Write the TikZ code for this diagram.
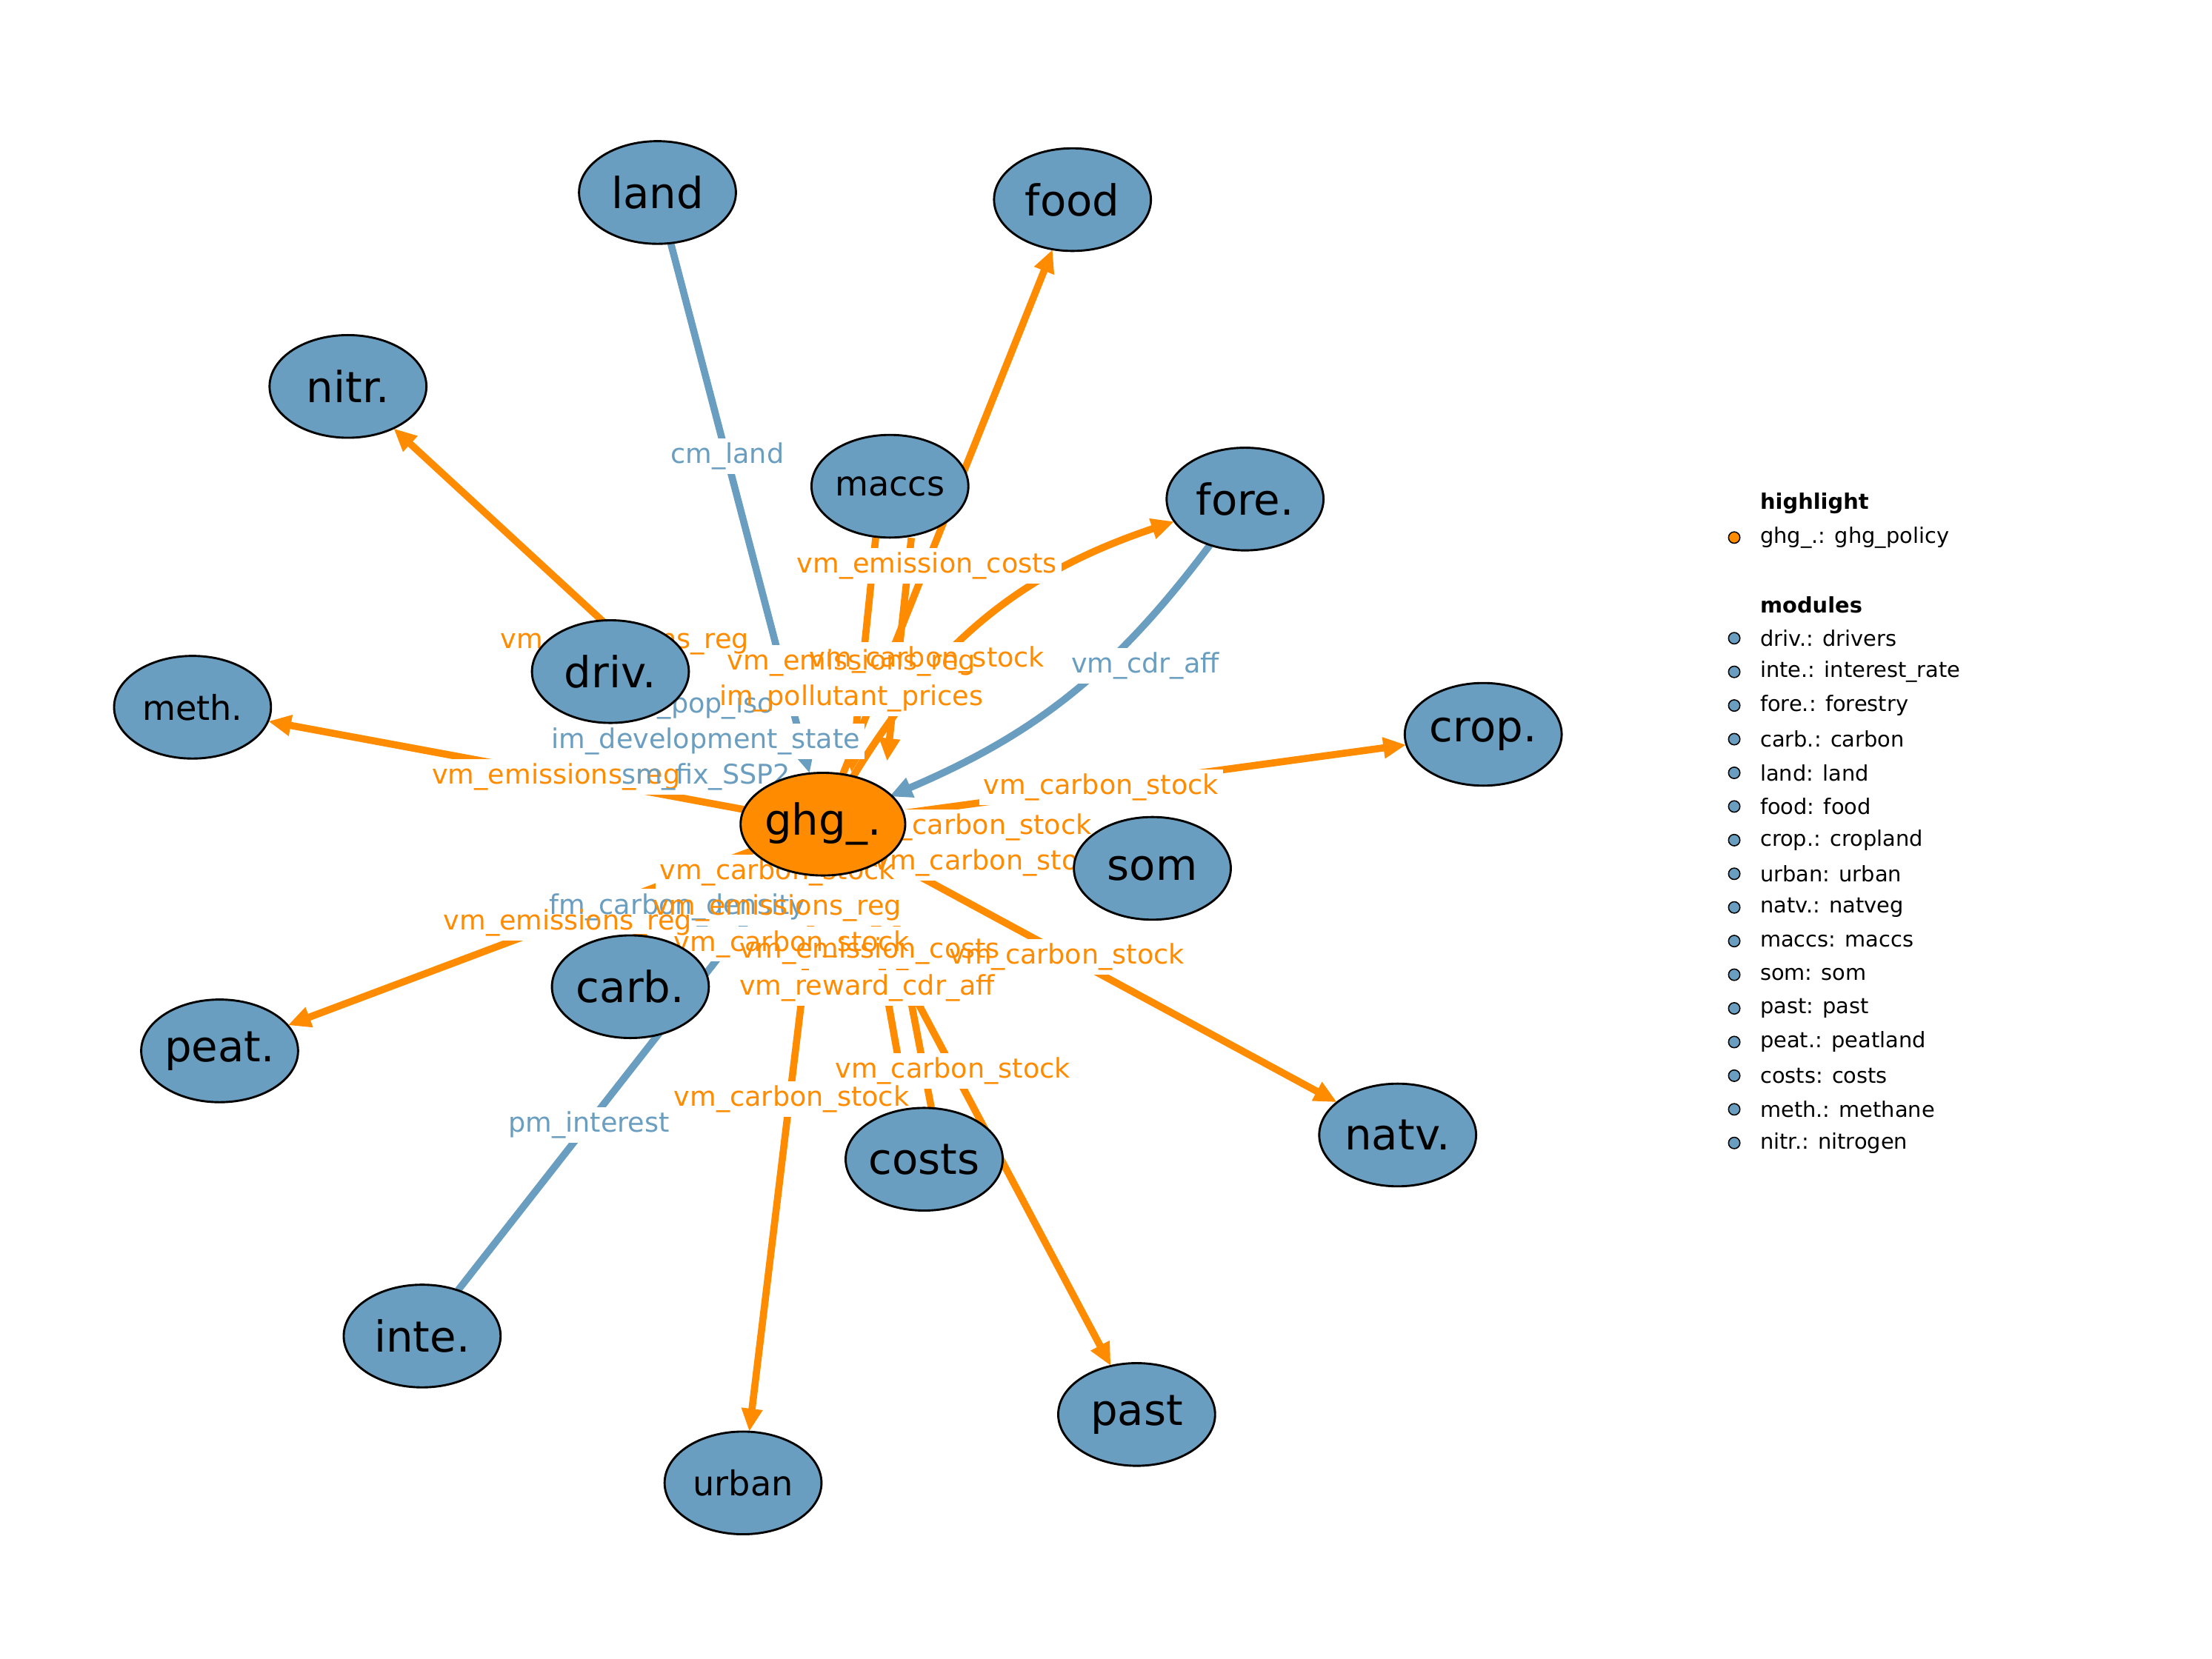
\documentclass[tikz,border=0pt]{standalone}
\usepackage{fontspec}
\setmainfont{DejaVu Sans}
\usetikzlibrary{arrows.meta,shapes.geometric}
\definecolor{mblue}{HTML}{6A9EC0}
\definecolor{morange}{HTML}{FF8C00}
\tikzset{
 mod/.style={ellipse,draw=black,line width=1.5pt,fill=mblue,minimum width=110pt,minimum height=72pt,inner sep=0pt,font=\fontsize{30}{30}\selectfont},
 smod/.style={mod,font=\fontsize{24}{24}\selectfont},
 oe/.style={draw=morange,line width=5pt,-{Triangle[length=16pt,width=14pt]}},
 be/.style={draw=mblue,line width=5pt,-{Triangle[length=16pt,width=14pt]}},
 lab/.style={inner sep=3pt,font=\fontsize{19}{19}\selectfont},
 boxpass/.style={lab,fill=white,text opacity=0},
 textpass/.style={lab},
 ocol/.style={text=morange},
 bcol/.style={text=mblue},
 leg/.style={anchor=west,font=\fontsize{15}{15}\selectfont,inner sep=0pt},
 dot/.style={circle,draw=black,line width=0.8pt,minimum size=8pt,inner sep=0pt}
}
\newcommand{\putlabels}[2]{%
\node[#1,bcol] (#2a) at (510,320) {cm\_land};
\node[#1,ocol] (#2b) at (650,397) {vm\_emission\_costs};
\node[#1,ocol] (#2c) at (438,450) {vm\_emissions\_reg};
\node[#1,ocol] (#2d) at (650,463) {vm\_carbon\_stock};
\node[#1,ocol] (#2e) at (597,465) {vm\_emissions\_reg};
\node[#1,bcol] (#2f) at (803,467) {vm\_cdr\_aff};
\node[#1,bcol] (#2g) at (490,495) {im\_pop\_iso};
\node[#1,ocol] (#2h) at (597,490) {im\_pollutant\_prices};
\node[#1,bcol] (#2i) at (495,520) {im\_development\_state};
\node[#1,ocol] (#2j) at (390,545) {vm\_emissions\_reg};
\node[#1,bcol] (#2k) at (495,545) {sm\_fix\_SSP2};
\node[#1,ocol] (#2l) at (772,552) {vm\_carbon\_stock};
\node[#1,ocol] (#2m) at (683,580) {vm\_carbon\_stock};
\node[#1,ocol] (#2n) at (695,605) {vm\_carbon\_stock};
\node[#1,ocol] (#2o) at (545,612) {vm\_carbon\_stock};
\node[#1,bcol] (#2p) at (475,636) {fm\_carbon\_density};
\node[#1,ocol] (#2q) at (545,637) {vm\_emissions\_reg};
\node[#1,ocol] (#2r) at (398,647) {vm\_emissions\_reg};
\node[#1,ocol] (#2s) at (555,662) {vm\_carbon\_stock};
\node[#1,ocol] (#2t) at (748,671) {vm\_carbon\_stock};
\node[#1,ocol] (#2u) at (610,667) {vm\_emission\_costs};
\node[#1,ocol] (#2v) at (608,693) {vm\_reward\_cdr\_aff};
\node[#1,ocol] (#2w) at (668,751) {vm\_carbon\_stock};
\node[#1,ocol] (#2x) at (555,771) {vm\_carbon\_stock};
\node[#1,bcol] (#2y) at (413,789) {pm\_interest};
}
\begin{document}
\begin{tikzpicture}[x=1pt,y=-1pt]
\useasboundingbox (0,0) rectangle (1551,1163);
\coordinate (cg) at (577,578);
\coordinate (cland) at (461,135);
\coordinate (cfood) at (752,140);
\coordinate (cnitr) at (244,271);
\coordinate (cmaccs) at (624,341);
\coordinate (cfore) at (873,350);
\coordinate (cdriv) at (428,471);
\coordinate (cmeth) at (135,496);
\coordinate (ccrop) at (1040,515);
\coordinate (csom) at (808,609);
\coordinate (ccarb) at (442,692);
\coordinate (cpeat) at (154,737);
\coordinate (cnatv) at (980,796);
\coordinate (ccosts) at (648,813);
\coordinate (cinte) at (296,937);
\coordinate (cpast) at (797,992);
\coordinate (curban) at (521,1040);
\begin{scope}[every node/.style={ellipse,minimum width=110pt,minimum height=72pt,inner sep=0pt}]
\node (g) at (cg) {}; \node (land) at (cland) {}; \node (food) at (cfood) {};
\node (nitr) at (cnitr) {}; \node (maccs) at (cmaccs) {}; \node (fore) at (cfore) {};
\node (driv) at (cdriv) {}; \node (meth) at (cmeth) {}; \node (crop) at (ccrop) {};
\node (som) at (csom) {}; \node (carb) at (ccarb) {}; \node (peat) at (cpeat) {};
\node (natv) at (cnatv) {}; \node (costs) at (ccosts) {}; \node (inte) at (cinte) {};
\node (past) at (cpast) {}; \node (urban) at (curban) {};
\end{scope}
% edges
\draw[oe] (g) -- (food);
\draw[oe] (g) -- (nitr);
\draw[oe] (g) -- (meth);
\draw[oe] (g) -- (crop);
\draw[oe] (g) -- (peat);
\draw[oe] (g) -- (natv);
\draw[oe] (g) -- (past);
\draw[oe] (g) -- (urban);
\draw[oe] (g) to[bend left=20] (fore);
\draw[oe] ([xshift=-10pt]maccs.south) -- ([xshift=20pt]g.north);
\draw[oe] ([xshift=15pt]maccs.south) -- ([xshift=45pt,yshift=8pt]g.north);
\draw[oe] (g) -- (som);
\draw[oe] ([xshift=-12pt]costs.north) -- ([xshift=30pt]g.south);
\draw[oe] ([xshift=5pt]costs.north) -- ([xshift=45pt]g.south);
\draw[be] (land) -- (g);
\draw[be] (fore) to[bend left=15] (g);
\draw[be] (driv) -- (g);
\draw[be] (carb) -- (g);
\draw[be] (inte) -- (g);
% labels: white boxes, then texts
\putlabels{boxpass}{bx}
\putlabels{textpass}{tx}
% nodes
\node[mod,fill=morange] (G) at (cg) {ghg\_.};
\node[mod] (Land) at (cland) {land};
\node[mod] (Food) at (cfood) {food};
\node[mod] (Nitr) at (cnitr) {nitr.};
\node[smod] (Maccs) at (cmaccs) {maccs};
\node[mod] (Fore) at (cfore) {fore.};
\node[mod] (Driv) at (cdriv) {driv.};
\node[smod] (Meth) at (cmeth) {meth.};
\node[mod] (Crop) at (ccrop) {crop.};
\node[mod] (Som) at (csom) {som};
\node[mod] (Carb) at (ccarb) {carb.};
\node[mod] (Peat) at (cpeat) {peat.};
\node[mod] (Natv) at (cnatv) {natv.};
\node[mod] (Costs) at (ccosts) {costs};
\node[mod] (Inte) at (cinte) {inte.};
\node[mod] (Past) at (cpast) {past};
\node[smod] (Urban) at (curban) {urban};
% legend
\node[leg,font=\fontsize{15}{15}\selectfont\bfseries] (h1) at (1234,353) {highlight};
\node[dot,fill=morange] (d0) at (1216,377) {};
\node[leg] (h2) at (1234,377) {ghg\_.: ghg\_policy};
\node[leg,font=\fontsize{15}{15}\selectfont\bfseries] (h3) at (1234,424) {modules};
\foreach \t [count=\i] in {driv.: drivers,inte.: interest\_rate,fore.: forestry,carb.: carbon,land: land,food: food,crop.: cropland,urban: urban,natv.: natveg,maccs: maccs,som: som,past: past,peat.: peatland,costs: costs,meth.: methane,nitr.: nitrogen}{
 \node[dot,fill=mblue] (md\i) at (1216,{424+23.6*\i}) {};
 \node[leg] (mt\i) at (1234,{424+23.6*\i}) {\t};
}
\end{tikzpicture}
\end{document}
